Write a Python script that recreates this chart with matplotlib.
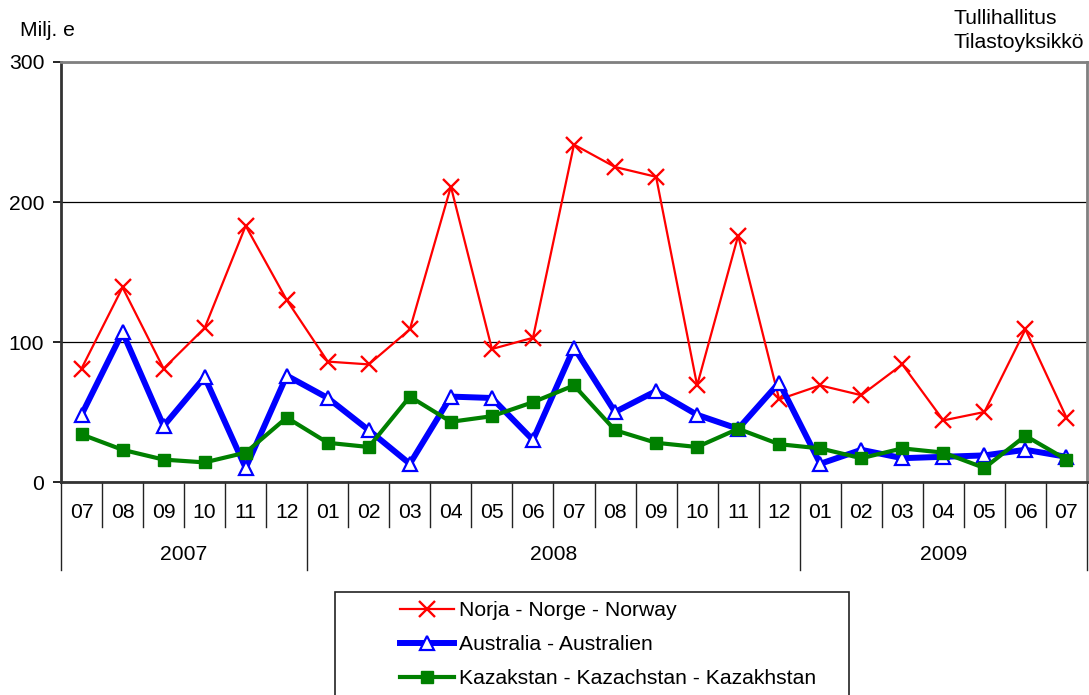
import matplotlib
matplotlib.use("Agg")
import matplotlib.pyplot as plt
from matplotlib.patches import Rectangle

# Monthly values, million euros, 2007-07 .. 2009-07
months = ["07", "08", "09", "10", "11", "12",
          "01", "02", "03", "04", "05", "06", "07", "08", "09", "10", "11", "12",
          "01", "02", "03", "04", "05", "06", "07"]
years = ["2007", "2008", "2009"]
year_spans = [6, 12, 7]

norway = [81, 139, 81, 110, 183, 130,
          86, 84, 109, 211, 95, 103, 241, 225, 218, 69, 176, 59,
          69, 62, 84, 44, 50, 109, 46]
australia = [48, 107, 40, 75, 10, 76,
             60, 37, 13, 61, 60, 30, 96, 50, 65, 48, 38, 71,
             13, 23, 17, 18, 19, 23, 18]
kazakhstan = [34, 23, 16, 14, 21, 46,
              28, 25, 61, 43, 47, 57, 69, 37, 28, 25, 38, 27,
              24, 17, 24, 21, 10, 33, 16]

labels = ["Norja - Norge - Norway",
          "Australia - Australien",
          "Kazakstan - Kazachstan - Kazakhstan"]

plt.rcParams['font.family'] = ['Liberation Sans', 'DejaVu Sans']
FS = 15.2

W, H = 1089, 695
fig = plt.figure(figsize=(W / 100, H / 100), dpi=100)
ax = fig.add_axes([61 / W, 1 - 482 / H, (1087 - 61) / W, (482 - 62) / H])

x = list(range(len(months)))
l1, = ax.plot(x, norway, color='#ff0000', lw=1.6, marker='x', ms=11.5,
              mew=1.7, zorder=3)
l2, = ax.plot(x, australia, color='#0000ff', lw=4.3, marker='^', ms=10.5,
              mfc='white', mec='#0000ff', mew=1.6, zorder=4)
l3, = ax.plot(x, kazakhstan, color='#008000', lw=3.0, marker='s', ms=9,
              mfc='#008000', mec='#008000', zorder=5)

ax.set_xlim(-0.5, len(months) - 0.5)
ax.set_ylim(0, 300)
ax.set_yticks([0, 100, 200, 300])
ax.tick_params(axis='y', length=6, width=1.2, pad=6, labelsize=FS,
               color='black')
ax.set_xticks([])
ax.yaxis.grid(True, color='black', lw=0.9)
ax.set_axisbelow(True)

for side in ('top', 'right'):
    ax.spines[side].set_color('#808080')
    ax.spines[side].set_linewidth(2.0)
ax.spines['left'].set_color('#333333')
ax.spines['left'].set_linewidth(2.0)
ax.spines['bottom'].set_color('#333333')
ax.spines['bottom'].set_linewidth(2.0)

# Two-level category axis: month cells and year groups
tr = ax.get_xaxis_transform()
month_bottom = -45 / 420
year_bottom = -88 / 420
boundaries = [0]
for s in year_spans:
    boundaries.append(boundaries[-1] + s)
for i in range(len(months) + 1):
    yb = year_bottom if i in boundaries else month_bottom
    ax.plot([i - 0.5, i - 0.5], [0, yb], transform=tr, clip_on=False,
            color='#222222', lw=1.0)
for i, m in enumerate(months):
    ax.text(i, -30 / 420, m, transform=tr, ha='center', va='center',
            fontsize=FS)
for k, yr in enumerate(years):
    c = (boundaries[k] + boundaries[k + 1]) / 2 - 0.5
    ax.text(c, -73 / 420, yr, transform=tr, ha='center', va='center',
            fontsize=FS)

fig.text(20 / W, 1 - 30 / H, "Milj. e", ha='left', va='center', fontsize=FS)
fig.text(953 / W, 1 - 18 / H, "Tullihallitus", ha='left', va='center',
         fontsize=FS)
fig.text(953 / W, 1 - 43 / H, "Tilastoyksikkö", ha='left', va='center',
         fontsize=FS)

# Legend box
fig.add_artist(Rectangle((335 / W, 1 - 720 / H), (849 - 335) / W,
                         (720 - 592) / H, transform=fig.transFigure,
                         fill=False, edgecolor='#222222', lw=1.2,
                         clip_on=False))
fig.legend([l1, l2, l3], labels, loc='upper left',
           bbox_to_anchor=(400 / W, 1 - 601 / H), frameon=False,
           fontsize=FS, handlelength=2.55, handletextpad=0.25,
           labelspacing=0.72, borderpad=0, borderaxespad=0)

fig.savefig("out.png", dpi=100)
